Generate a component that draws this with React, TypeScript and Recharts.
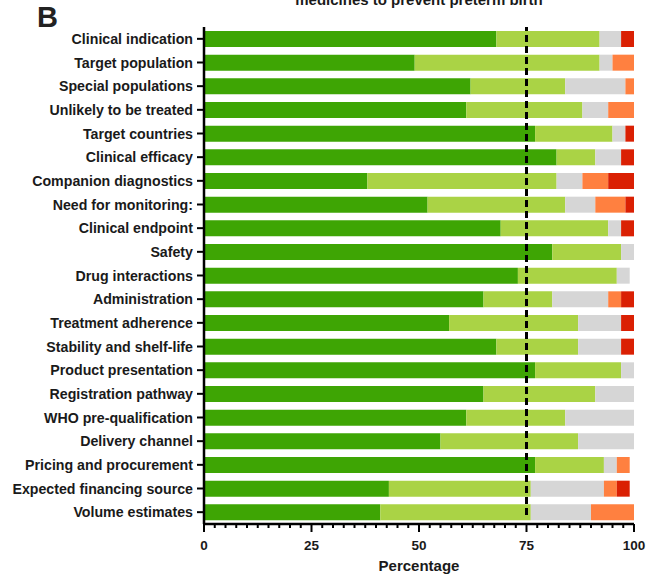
import { BarChart, Bar, XAxis, YAxis, ReferenceLine } from "recharts"

const categories = [
  "Clinical indication",
  "Target population",
  "Special populations",
  "Unlikely to be treated",
  "Target countries",
  "Clinical efficacy",
  "Companion diagnostics",
  "Need for monitoring:",
  "Clinical endpoint",
  "Safety",
  "Drug interactions",
  "Administration",
  "Treatment adherence",
  "Stability and shelf-life",
  "Product presentation",
  "Registration pathway",
  "WHO pre-qualification",
  "Delivery channel",
  "Pricing and procurement",
  "Expected financing source",
  "Volume estimates",
]

const darkGreen = [68, 49, 62, 61, 77, 82, 38, 52, 69, 81, 73, 65, 57, 68, 77, 65, 61, 55, 77, 43, 41]
const lightGreen = [24, 43, 22, 27, 18, 9, 44, 32, 25, 16, 23, 16, 30, 19, 20, 26, 23, 32, 16, 33, 35]
const grey = [5, 3, 14, 6, 3, 6, 6, 7, 3, 3, 3, 13, 10, 10, 3, 9, 16, 13, 3, 17, 14]
const orange = [0, 5, 2, 6, 0, 0, 6, 7, 0, 0, 0, 3, 0, 0, 0, 0, 0, 0, 3, 3, 10]
const red = [3, 0, 0, 0, 2, 3, 6, 2, 3, 0, 0, 3, 3, 3, 0, 0, 0, 0, 0, 3, 0]

const xTicks = Array.from({ length: 41 }, (_, i) => i * 2.5)

const data = categories.map((name, i) => ({
  name,
  dark: darkGreen[i],
  light: lightGreen[i],
  grey: grey[i],
  orange: orange[i],
  red: red[i],
}))

const FONT = '"Liberation Sans", Arial, sans-serif'

const XTick = ({ x, y, payload }: any) => {
  const major = payload.value % 25 === 0
  return (
    <g>
      <line x1={x} x2={x} y1={y} y2={y + (major ? 8 : 4)} stroke="#000" strokeWidth={2} />
      {major && (
        <text x={x} y={y + 26} textAnchor="middle" fontFamily={FONT} fontWeight="bold" fontSize={13.5} fill="#1a1a1a">
          {payload.value}
        </text>
      )}
    </g>
  )
}

const DashLine = ({ x1, y1, y2 }: any) => (
  <line x1={x1} x2={x1} y1={y1 - 9} y2={y2} stroke="#000" strokeWidth={3} strokeDasharray="7 4" />
)

export default function App() {
  return (
    <div style={{ position: "absolute", left: 0, top: 0, width: 655, height: 578, background: "#fff" }}>
      <BarChart
        width={655}
        height={578}
        data={data}
        layout="vertical"
        barSize={16}
        margin={{ top: 27, right: 21, bottom: 0, left: 0 }}
      >
        <XAxis
          type="number"
          domain={[0, 100]}
          ticks={xTicks}
          interval={0}
          tickLine={false}
          tickSize={0}
          tickMargin={0}
          tick={<XTick />}
          height={54}
          axisLine={{ stroke: "#000", strokeWidth: 2.5 }}
        />
        <YAxis
          type="category"
          dataKey="name"
          width={204}
          interval={0}
          tickSize={7}
          tickMargin={4}
          tickLine={{ stroke: "#000", strokeWidth: 2 }}
          axisLine={{ stroke: "#000", strokeWidth: 2.5 }}
          tick={{ fontFamily: FONT, fontWeight: "bold", fontSize: 14.2, fill: "#1a1a1a" }}
        />
        <Bar dataKey="dark" stackId="a" fill="#3ea504" isAnimationActive={false} />
        <Bar dataKey="light" stackId="a" fill="#aad345" isAnimationActive={false} />
        <Bar dataKey="grey" stackId="a" fill="#d6d6d6" isAnimationActive={false} />
        <Bar dataKey="orange" stackId="a" fill="#ff8040" isAnimationActive={false} />
        <Bar dataKey="red" stackId="a" fill="#da2003" isAnimationActive={false} />
        <ReferenceLine x={75} shape={<DashLine />} />
      </BarChart>
      <svg width={655} height={578} style={{ position: "absolute", left: 0, top: 0, pointerEvents: "none" }}>
        <text x={37} y={27} fontFamily={FONT} fontWeight="bold" fontSize={29} fill="#222">B</text>
        <text x={419} y={5} textAnchor="middle" fontFamily={FONT} fontWeight="bold" fontSize={15} fill="#1a1a1a">
          medicines to prevent preterm birth
        </text>
        <text x={419} y={571} textAnchor="middle" fontFamily={FONT} fontWeight="bold" fontSize={15} fill="#1a1a1a">
          Percentage
        </text>
      </svg>
    </div>
  )
}
